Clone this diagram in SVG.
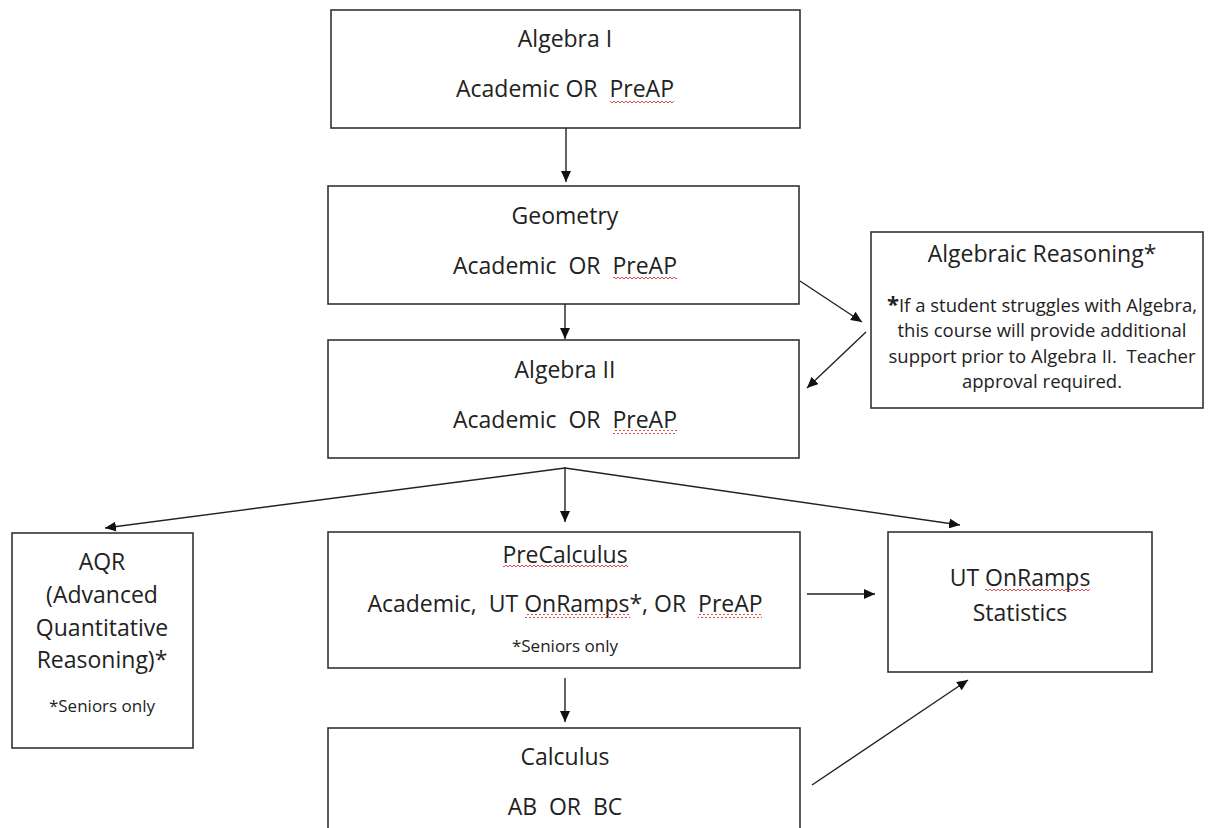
<svg xmlns="http://www.w3.org/2000/svg" width="1213" height="828" viewBox="0 0 1213 828">
<style>
.box{fill:#fff;stroke:#333;stroke-width:1.6}
.t{font-family:"Open Sans","Liberation Sans",sans-serif;font-size:23px;fill:#222;text-anchor:middle;white-space:pre}
.s{font-family:"Open Sans","Liberation Sans",sans-serif;font-size:18.5px;fill:#222;text-anchor:middle;white-space:pre}
.n{font-family:"Open Sans","Liberation Sans",sans-serif;font-size:17px;fill:#222;text-anchor:middle;white-space:pre}
.c{fill:none;stroke:#222;stroke-width:1.4}
.sq{fill:url(#wave)}
</style>
<defs>
<marker id="ah" markerUnits="userSpaceOnUse" markerWidth="12" markerHeight="10" refX="11" refY="5" orient="auto">
<path d="M0,0 L11,5 L0,10 z" fill="#111"/>
</marker>
<pattern id="wave" patternUnits="userSpaceOnUse" width="4" height="4">
<path d="M0,3 L2,1 L4,3" fill="none" stroke="#d23a3a" stroke-width="0.9"/>
</pattern>
</defs>
<rect width="1213" height="828" fill="#fff"/>

<g id="algebra1">
<rect class="box" x="331" y="10" width="469" height="118"/>
<text class="t" x="565" y="47">Algebra I</text>
<text class="t" x="565" y="97">Academic OR  PreAP</text>
<rect class="sq" x="610" y="99" width="64" height="4"/>
</g>

<g id="geometry">
<rect class="box" x="328" y="186" width="471" height="118"/>
<text class="t" x="565" y="224">Geometry</text>
<text class="t" x="565" y="274">Academic  OR  PreAP</text>
<rect class="sq" x="613" y="276" width="64" height="4"/>
</g>

<g id="algebra2">
<rect class="box" x="328" y="340" width="471" height="118"/>
<text class="t" x="565" y="378">Algebra II</text>
<text class="t" x="565" y="428">Academic  OR  PreAP</text>
<rect class="sq" x="613" y="430" width="64" height="4"/>
</g>

<g id="algebraic-reasoning">
<rect class="box" x="871" y="232" width="332" height="176"/>
<text class="t" x="1042" y="262">Algebraic Reasoning*</text>
<text class="s" x="1042" y="312"><tspan font-size="22" font-weight="bold">*</tspan>If a student struggles with Algebra,</text>
<text class="s" x="1042" y="337">this course will provide additional</text>
<text class="s" x="1042" y="363">support prior to Algebra II.  Teacher</text>
<text class="s" x="1042" y="388">approval required.</text>
</g>

<g id="aqr">
<rect class="box" x="12" y="533" width="181" height="215"/>
<text class="t" x="102" y="570">AQR</text>
<text class="t" x="102" y="603">(Advanced</text>
<text class="t" x="102" y="636">Quantitative</text>
<text class="t" x="102" y="668">Reasoning)*</text>
<text class="n" x="102" y="712">*Seniors only</text>
</g>

<g id="precalculus">
<rect class="box" x="328" y="532" width="472" height="136"/>
<text class="t" x="565" y="563">PreCalculus</text>
<rect class="sq" x="503" y="565" width="125" height="4"/>
<text class="t" x="565" y="612">Academic,  UT OnRamps*, OR  PreAP</text>
<rect class="sq" x="525" y="614" width="105" height="4"/>
<rect class="sq" x="698" y="614" width="64" height="4"/>
<text class="n" x="565" y="652">*Seniors only</text>
</g>

<g id="ut-statistics">
<rect class="box" x="888" y="532" width="264" height="140"/>
<text class="t" x="1020" y="586">UT OnRamps</text>
<rect class="sq" x="985" y="588" width="105" height="4"/>
<text class="t" x="1020" y="621">Statistics</text>
</g>

<g id="calculus">
<rect class="box" x="328" y="728" width="472" height="112"/>
<text class="t" x="565" y="765">Calculus</text>
<text class="t" x="565" y="815">AB  OR  BC</text>
</g>

<g id="connectors">
<line class="c" x1="566" y1="128" x2="566" y2="182" marker-end="url(#ah)"/>
<line class="c" x1="565" y1="304" x2="565" y2="339" marker-end="url(#ah)"/>
<line class="c" x1="800" y1="281" x2="862" y2="322" marker-end="url(#ah)"/>
<line class="c" x1="866" y1="332" x2="807" y2="388" marker-end="url(#ah)"/>
<line class="c" x1="565" y1="467" x2="565" y2="522" marker-end="url(#ah)"/>
<line class="c" x1="565" y1="468" x2="105" y2="528" marker-end="url(#ah)"/>
<line class="c" x1="565" y1="468" x2="960" y2="525" marker-end="url(#ah)"/>
<line class="c" x1="807" y1="594" x2="875" y2="594" marker-end="url(#ah)"/>
<line class="c" x1="565" y1="678" x2="565" y2="722" marker-end="url(#ah)"/>
<line class="c" x1="812" y1="785" x2="968" y2="680" marker-end="url(#ah)"/>
</g>
</svg>
